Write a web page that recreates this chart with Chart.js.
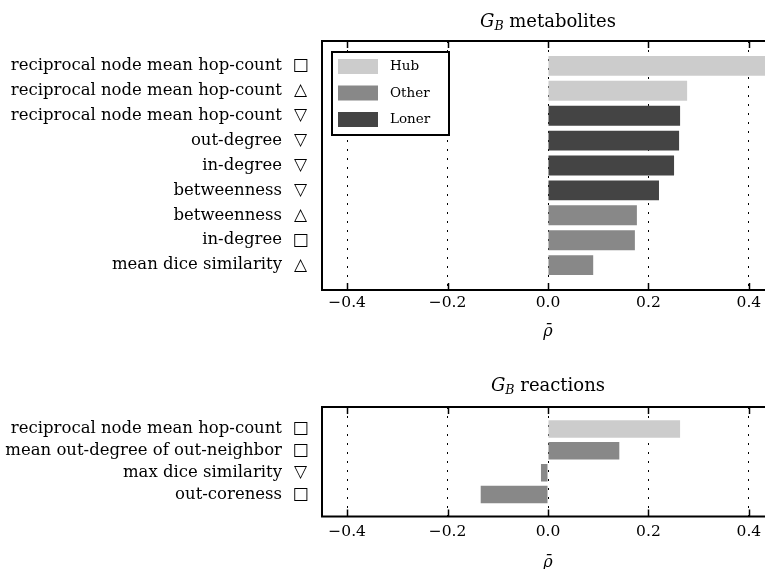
<!DOCTYPE html>
<html><head><meta charset="utf-8">
<script src="https://cdn.jsdelivr.net/npm/chart.js@4/dist/chart.umd.min.js"></script>
<style>
html,body{margin:0;padding:0;background:#fff;overflow:hidden;width:765px;height:569px;position:relative;}
#c1{position:absolute;left:0;top:0;}
#c2{position:absolute;left:0;top:360px;}
</style></head><body>
<canvas id="c1" width="780" height="360"></canvas>
<canvas id="c2" width="780" height="209"></canvas>
<script>
// ---- data ----
const groupNames = ['Hub', 'Other', 'Loner'];
const groupColors = ['#cccccc', '#888888', '#444444'];

const metTitle = 'metabolites';
const metLabels = ['reciprocal node mean hop-count', 'reciprocal node mean hop-count', 'reciprocal node mean hop-count',
  'out-degree', 'in-degree', 'betweenness', 'betweenness', 'in-degree', 'mean dice similarity'];
const metShapes = ['□', '△', '▽', '▽', '▽', '▽', '△', '□', '△'];
const metGroups = ['Hub', 'Hub', 'Loner', 'Loner', 'Loner', 'Loner', 'Other', 'Other', 'Other'];
const metValues = [0.46, 0.277, 0.263, 0.261, 0.251, 0.221, 0.177, 0.173, 0.090];

const rxnTitle = 'reactions';
const rxnLabels = ['reciprocal node mean hop-count', 'mean out-degree of out-neighbor', 'max dice similarity', 'out-coreness'];
const rxnShapes = ['□', '□', '▽', '□'];
const rxnGroups = ['Hub', 'Other', 'Other', 'Other'];
const rxnValues = [0.263, 0.142, -0.014, -0.134];

const xTicks = [-0.4, -0.2, 0.0, 0.2, 0.4];
const xRange = [-0.45, 0.45];
const xTitle = 'ρ\u0304';

const SERIF = "'DejaVu Serif', serif";

function fmtTick(v) { return (v < -1e-9 ? '\u2212' : '') + Math.abs(v).toFixed(1); }

function drawTitle(ctx, cx, y, word) {
  const big = "18px " + SERIF, it = "italic 18px " + SERIF, sub = "italic 12.5px " + SERIF;
  ctx.font = it; const wG = ctx.measureText('G').width;
  ctx.font = sub; const wB = ctx.measureText('B').width;
  ctx.font = big; const wW = ctx.measureText(' ' + word).width;
  let x = cx - (wG + wB + wW) / 2;
  ctx.textBaseline = 'alphabetic'; ctx.textAlign = 'left'; ctx.fillStyle = '#000';
  ctx.font = it; ctx.fillText('G', x, y); x += wG;
  ctx.font = sub; ctx.fillText('B', x, y + 3); x += wB;
  ctx.font = big; ctx.fillText(' ' + word, x, y);
}

function makeChart(id, labels, shapes, groups, values, title, o) {
  const datasets = groupNames.map((g, gi) => ({
    label: g,
    backgroundColor: groupColors[gi],
    borderWidth: 0,
    grouped: false,
    barPercentage: 0.8,
    categoryPercentage: 1.0,
    data: values.map((v, i) => groups[i] === g ? { x: v, y: i } : null).filter(d => d)
  }));
  const deco = {
    id: 'deco',
    afterDraw(chart) {
      const ctx = chart.ctx, a = chart.chartArea, xs = chart.scales.x, ys = chart.scales.y;
      ctx.save();
      // symbols
      ctx.font = "17px 'DejaVu Sans'"; ctx.fillStyle = '#000';
      ctx.textAlign = 'center'; ctx.textBaseline = 'middle';
      shapes.forEach((s, i) => ctx.fillText(s, a.left - 21.5, ys.getPixelForValue(i)));
      // inward tick marks
      ctx.strokeStyle = '#000'; ctx.lineWidth = 1.5;
      xTicks.forEach(v => {
        const px = Math.round(xs.getPixelForValue(v)) + 0.5;
        ctx.beginPath(); ctx.moveTo(px, a.top); ctx.lineTo(px, a.top + 7); ctx.stroke();
        ctx.beginPath(); ctx.moveTo(px, a.bottom); ctx.lineTo(px, a.bottom - 7); ctx.stroke();
      });
      // frame
      ctx.lineWidth = 2;
      ctx.strokeRect(a.left, a.top, a.right - a.left, a.bottom - a.top);
      // title
      drawTitle(ctx, (a.left + a.right) / 2, a.top - o.titleGap, title);
      // legend
      if (o.legend) {
        const lx = a.left + 10, ly = a.top + 11, lw = 117, lh = 83;
        ctx.fillStyle = '#fff'; ctx.fillRect(lx, ly, lw, lh);
        ctx.lineWidth = 2; ctx.strokeStyle = '#000'; ctx.strokeRect(lx, ly, lw, lh);
        ctx.font = "13.5px " + SERIF; ctx.textAlign = 'left'; ctx.textBaseline = 'middle';
        groupNames.forEach((g, gi) => {
          const cy = ly + 14.5 + gi * 26.5;
          ctx.fillStyle = groupColors[gi];
          ctx.fillRect(lx + 6, cy - 7.5, 40, 15);
          ctx.fillStyle = '#000';
          ctx.fillText(g, lx + 58, cy);
        });
      }
      ctx.restore();
    }
  };
  return new Chart(document.getElementById(id), {
    type: 'bar',
    data: { datasets },
    options: {
      indexAxis: 'y',
      responsive: false,
      animation: false,
      devicePixelRatio: 1,
      layout: { padding: { top: o.padTop, right: 6, left: 0, bottom: 0 } },
      plugins: { legend: { display: false }, tooltip: { enabled: false }, title: { display: false } },
      scales: {
        x: {
          type: 'linear', position: 'bottom', min: xRange[0], max: xRange[1], z: 1,
          afterBuildTicks: s => { s.ticks = xTicks.map(v => ({ value: v })); },
          afterFit: s => { s.height = o.xHeight; s.paddingLeft = 0; s.paddingRight = 0; },
          grid: { display: true, color: '#000', lineWidth: 1, drawTicks: false, borderDash: [2, 7] },
          border: { display: false, dash: [2, 7] },
          ticks: { font: { family: SERIF, size: 15.5 }, color: '#000', padding: o.tickPad,
            callback: v => fmtTick(v), maxRotation: 0, autoSkip: false },
          title: { display: true, text: xTitle, font: { family: SERIF, size: 16, style: 'italic' }, color: '#000',
            padding: { top: 0, bottom: o.titlePad } }
        },
        y: {
          type: 'linear', min: -1, max: labels.length, reverse: true, offset: false,
          afterBuildTicks: s => { s.ticks = labels.map((_, i) => ({ value: i })); },
          afterFit: s => { s.width = 322; s.paddingTop = 0; s.paddingBottom = 0; },
          grid: { display: false, drawTicks: false, offset: false },
          border: { display: false },
          ticks: { font: { family: SERIF, size: 16.5 }, color: '#000', padding: 40,
            callback: v => labels[v] ?? '', autoSkip: false }
        }
      }
    },
    plugins: [deco]
  });
}

makeChart('c1', metLabels, metShapes, metGroups, metValues, metTitle,
  { padTop: 41, xHeight: 70, tickPad: 4, titlePad: 19, titleGap: 14, legend: true });
makeChart('c2', rxnLabels, rxnShapes, rxnGroups, rxnValues, rxnTitle,
  { padTop: 47, xHeight: 52.5, tickPad: 6, titlePad: -3, titleGap: 16, legend: false });
</script>
</body></html>
